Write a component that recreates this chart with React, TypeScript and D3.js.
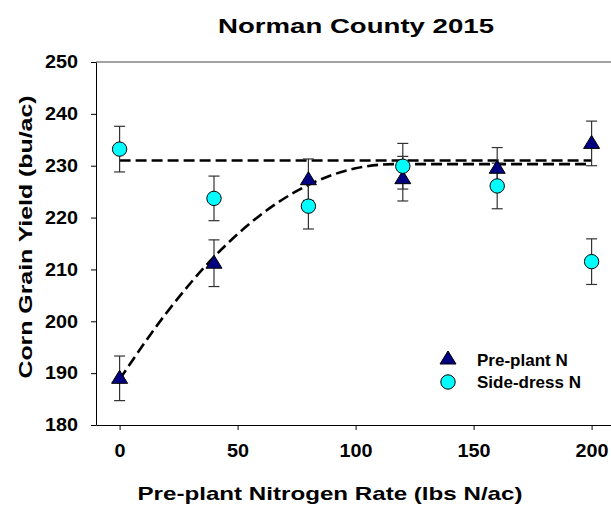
import * as d3 from "d3";
import { useEffect, useRef } from "react";

// nitrogen rates (lbs N/ac)
const rates = [0, 40, 80, 120, 160, 200];
// pre-plant N: mean yield and error
const prePlant = [189.0, 211.2, 227.3, 227.5, 229.5, 234.3];
const prePlantErr = [4.3, 4.5, 4.0, 4.3, 4.0, 4.3];
// side-dress N: mean yield and error
const sideDress = [233.2, 223.7, 222.2, 229.9, 226.1, 211.5];
const sideDressErr = [4.4, 4.3, 4.4, 4.4, 4.4, 4.4];
// fitted lines
const plateauFit = [
  [0, 188.8], [20, 201.7], [40, 212.4], [60, 220.6], [80, 226.3], [100, 229.5], [116, 230.3], [200, 230.3],
];
const meanSideDress = [[0, 231.0], [200, 231.0]];
// ticks
const xTicks = [0, 50, 100, 150, 200];
const yTicks = [180, 190, 200, 210, 220, 230, 240, 250];

const W = 611;
const H = 505;
const FONT = "'Liberation Sans', Arial, sans-serif";

const App = () => {
  const svgRef = useRef<SVGSVGElement>(null);

  useEffect(() => {
    const svg = d3.select(svgRef.current);
    svg.selectAll("*").remove();

    const x = d3.scaleLinear().domain([-10, 210]).range([96, 615.2]);
    const y = d3.scaleLinear().domain([180, 250]).range([425, 62]);

    // рамка
    svg.append("line").attr("x1", 96).attr("x2", W).attr("y1", 62).attr("y2", 62)
      .attr("stroke", "#444").attr("stroke-width", 1);

    // ось x
    const gx = svg.append("g").attr("transform", "translate(0,425)")
      .call(d3.axisBottom(x).tickValues(xTicks).tickSize(5).tickSizeOuter(0).tickPadding(14));
    gx.select(".domain").attr("stroke", "#000");
    gx.selectAll("text")
      .style("font-size", "18px").style("font-weight", "bold").style("font-family", FONT).attr("fill", "#000")
      .attr("textLength", (d: any) => String(d).length * 11).attr("lengthAdjust", "spacingAndGlyphs");

    // ось y
    const gy = svg.append("g").attr("transform", "translate(96,0)")
      .call(d3.axisLeft(y).tickValues(yTicks).tickSize(5).tickSizeOuter(0).tickPadding(13));
    gy.select(".domain").attr("stroke", "#000");
    gy.selectAll("text")
      .style("font-size", "18px").style("font-weight", "bold").style("font-family", FONT).attr("fill", "#000")
      .attr("textLength", 33).attr("lengthAdjust", "spacingAndGlyphs");

    // заголовок
    svg.append("text").attr("x", 356).attr("y", 33).attr("text-anchor", "middle")
      .style("font-size", "21px").style("font-weight", "bold").style("font-family", FONT)
      .attr("textLength", 276).attr("lengthAdjust", "spacingAndGlyphs")
      .text("Norman County 2015");

    // подписи осей
    svg.append("text").attr("x", 330).attr("y", 500).attr("text-anchor", "middle")
      .style("font-size", "19px").style("font-weight", "bold").style("font-family", FONT)
      .attr("textLength", 385).attr("lengthAdjust", "spacingAndGlyphs")
      .text("Pre-plant Nitrogen Rate (lbs N/ac)");
    svg.append("text").attr("transform", "translate(32,237) rotate(-90)").attr("text-anchor", "middle")
      .style("font-size", "19px").style("font-weight", "bold").style("font-family", FONT)
      .attr("textLength", 283).attr("lengthAdjust", "spacingAndGlyphs")
      .text("Corn Grain Yield (bu/ac)");

    // линии подгонки
    const line = d3.line<number[]>().x(d => x(d[0])).y(d => y(d[1])).curve(d3.curveMonotoneX);
    [plateauFit, meanSideDress].forEach(pts => {
      svg.append("path").attr("d", line(pts)).attr("fill", "none")
        .attr("stroke", "#000").attr("stroke-width", 2.6).attr("stroke-dasharray", "11,5");
    });

    // планки погрешностей
    const drawErr = (vals: number[], errs: number[]) => {
      rates.forEach((r, i) => {
        const g = svg.append("g").attr("stroke", "#333").attr("stroke-width", 1.2);
        const cx = x(r);
        g.append("line").attr("x1", cx).attr("x2", cx).attr("y1", y(vals[i] - errs[i])).attr("y2", y(vals[i] + errs[i]));
        [vals[i] - errs[i], vals[i] + errs[i]].forEach(v => {
          g.append("line").attr("x1", cx - 5.5).attr("x2", cx + 5.5).attr("y1", y(v)).attr("y2", y(v));
        });
      });
    };
    drawErr(prePlant, prePlantErr);
    drawErr(sideDress, sideDressErr);

    // маркеры
    const tri = (cx: number, cy: number) => `M${cx},${cy - 8} L${cx + 8},${cy + 5} L${cx - 8},${cy + 5} Z`;
    svg.selectAll(".pre").data(rates).enter().append("path").attr("class", "pre")
      .attr("d", (r, i) => tri(x(r), y(prePlant[i])))
      .attr("fill", "#000080").attr("stroke", "#000").attr("stroke-width", 1);
    svg.selectAll(".side").data(rates).enter().append("circle").attr("class", "side")
      .attr("cx", r => x(r)).attr("cy", (r, i) => y(sideDress[i])).attr("r", 7.2)
      .attr("fill", "#00ffff").attr("stroke", "#000").attr("stroke-width", 1);

    // легенда
    const legend = svg.append("g");
    legend.append("path").attr("d", tri(448, 359)).attr("fill", "#000080").attr("stroke", "#000");
    legend.append("circle").attr("cx", 448).attr("cy", 382).attr("r", 7.2).attr("fill", "#00ffff").attr("stroke", "#000");
    legend.append("text").attr("x", 477).attr("y", 366).text("Pre-plant N")
      .style("font-size", "17px").style("font-weight", "bold").style("font-family", FONT);
    legend.append("text").attr("x", 477).attr("y", 388).text("Side-dress N")
      .style("font-size", "17px").style("font-weight", "bold").style("font-family", FONT);
  }, []);

  return (
    <svg ref={svgRef} width={W} height={H}
      style={{ position: "absolute", left: 0, top: 0, background: "#fff" }} />
  );
};

export default App;
